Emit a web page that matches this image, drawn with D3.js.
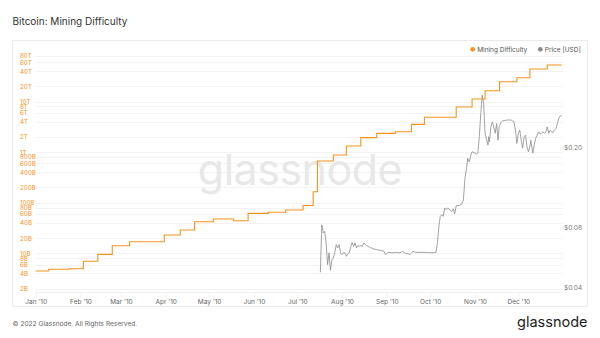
<!DOCTYPE html>
<html>
<head>
	<meta charset="utf-8">
    <title>Bitcoin: Mining Difficulty</title>
    <script type="text/javascript" src="https://d3js.org/d3.v7.min.js"></script>
    <style>
        body { margin: 0; background: #fff; }
        text { font-family: Inter, "Noto Sans", sans-serif; }
    </style>
</head>
<body>
	<script type="text/javascript">
        // difficulty steps (display units, hashes) - last point closes the final step
        var diffDates = ['2010-01-01','2010-01-10','2010-01-24','2010-02-03','2010-02-13','2010-02-23','2010-03-07',
            '2010-03-31','2010-04-11','2010-04-21','2010-05-04','2010-05-18','2010-05-28','2010-06-11','2010-06-23',
            '2010-07-05','2010-07-12','2010-07-15','2010-07-26','2010-08-04','2010-08-14','2010-08-25','2010-09-07',
            '2010-09-18','2010-09-27','2010-10-19','2010-10-30','2010-11-08','2010-11-18','2010-11-30','2010-12-09',
            '2010-12-21','2010-12-31']
        var diffValues = [4.47e9,4.83e9,4.96e9,6.95e9,9.55e9,14.1e9,16.9e9,
            23.0e9,28.9e9,42.1e9,47.6e9,44.1e9,61.7e9,64.6e9,71.7e9,
            88.1e9,165e9,667e9,877e9,1.32e12,1.93e12,2.35e12,2.53e12,
            3.54e12,4.87e12,7.78e12,11.2e12,16.3e12,24.6e12,29.5e12,43.9e12,
            52.6e12,52.6e12]

        var priceDates = ['2010-07-17','2010-07-18','2010-07-19','2010-07-20','2010-07-21','2010-07-22','2010-07-23',
            '2010-07-24','2010-07-25','2010-07-26','2010-07-27','2010-07-28','2010-07-29','2010-07-30','2010-07-31',
            '2010-08-01','2010-08-02','2010-08-03','2010-08-04','2010-08-05','2010-08-06','2010-08-07','2010-08-08',
            '2010-08-09','2010-08-10','2010-08-11','2010-08-12','2010-08-13','2010-08-14','2010-08-15','2010-08-16',
            '2010-08-17','2010-08-18','2010-08-19','2010-08-20','2010-08-21','2010-08-22','2010-08-23','2010-08-25',
            '2010-08-27','2010-08-29','2010-08-30','2010-08-31','2010-09-02','2010-09-05','2010-09-07','2010-09-10',
            '2010-09-12','2010-09-14','2010-09-16','2010-09-17','2010-09-19','2010-09-21','2010-09-24','2010-09-28',
            '2010-10-01','2010-10-03','2010-10-05','2010-10-06','2010-10-07','2010-10-08','2010-10-09','2010-10-10',
            '2010-10-11','2010-10-12','2010-10-13','2010-10-15','2010-10-16','2010-10-17','2010-10-18','2010-10-19',
            '2010-10-21','2010-10-23','2010-10-24','2010-10-25','2010-10-26','2010-10-27','2010-10-28','2010-10-29',
            '2010-10-30','2010-11-01','2010-11-02','2010-11-03','2010-11-04','2010-11-05','2010-11-06','2010-11-07',
            '2010-11-07T12','2010-11-08','2010-11-09','2010-11-10','2010-11-10T12','2010-11-11','2010-11-12','2010-11-13',
            '2010-11-14','2010-11-15','2010-11-16','2010-11-17','2010-11-17T18','2010-11-18T18','2010-11-20','2010-11-23',
            '2010-11-26','2010-11-28','2010-11-29','2010-11-30','2010-12-01','2010-12-02','2010-12-03','2010-12-03T18',
            '2010-12-04','2010-12-05','2010-12-06','2010-12-07','2010-12-08','2010-12-09','2010-12-09T16','2010-12-10',
            '2010-12-11','2010-12-12','2010-12-13','2010-12-14','2010-12-15','2010-12-16','2010-12-17','2010-12-18',
            '2010-12-19','2010-12-20','2010-12-21','2010-12-22','2010-12-23','2010-12-24','2010-12-25','2010-12-26',
            '2010-12-27','2010-12-28','2010-12-29','2010-12-30','2010-12-31']
        var priceValues = [0.0477,0.0824,0.075,0.0764,0.0669,0.0521,0.0597,
            0.0489,0.0552,0.0563,0.060,0.0656,0.0632,0.0656,0.0597,
            0.0585,0.060,0.0597,0.0574,0.059,0.0597,0.064,0.0673,
            0.0643,0.0669,0.0632,0.0649,0.0645,0.065,0.0643,0.0669,
            0.066,0.065,0.0643,0.0638,0.0632,0.0628,0.0624,0.062,
            0.0615,0.0612,0.0608,0.0585,0.0601,0.0597,0.060,0.0597,
            0.0608,0.0592,0.059,0.0585,0.0608,0.060,0.0601,0.060,
            0.0598,0.0597,0.0601,0.0669,0.0809,0.0908,0.0926,0.0908,
            0.100,0.098,0.100,0.0975,0.0961,0.099,0.0936,0.1026,
            0.103,0.105,0.110,0.139,0.155,0.177,0.170,0.182,
            0.191,0.188,0.186,0.188,0.227,0.296,0.366,0.333,
            0.275,0.236,0.220,0.206,0.227,0.214,0.254,0.269,
            0.254,0.236,0.264,0.218,0.254,0.266,0.272,0.275,
            0.275,0.269,0.245,0.210,0.236,0.245,0.218,0.202,
            0.199,0.227,0.231,0.202,0.191,0.202,0.218,0.210,
            0.188,0.206,0.223,0.231,0.240,0.234,0.236,0.240,
            0.236,0.240,0.254,0.236,0.245,0.240,0.238,0.245,
            0.249,0.264,0.280,0.288,0.290]

        var diffTicks = [2e9,4e9,6e9,8e9,1e10,2e10,4e10,6e10,8e10,1e11,2e11,4e11,6e11,8e11,
            1e12,2e12,4e12,6e12,8e12,1e13,2e13,4e13,6e13,8e13]
        var diffTickLabels = ['2B','4B','6B','8B','10B','20B','40B','60B','80B','100B','200B','400B','600B','800B',
            '1T','2T','4T','6T','8T','10T','20T','40T','60T','80T']
        var priceTicks = [0.04, 0.08, 0.20]
        var priceTickLabels = ['$0.04','$0.08','$0.20']
        var monthTicks = ['2010-01-01','2010-02-01','2010-03-01','2010-04-01','2010-05-01','2010-06-01',
            '2010-07-01','2010-08-01','2010-09-01','2010-10-01','2010-11-01','2010-12-01']
        var monthLabels = ["Jan '10","Feb '10","Mar '10","Apr '10","May '10","Jun '10",
            "Jul '10","Aug '10","Sep '10","Oct '10","Nov '10","Dec '10"]

        var parse = function (s) { return d3.isoParse(s.length > 10 ? s + ':00' : s + 'T00:00') }
        var orange = '#f7931a'
        var grey = '#8c8c8c'

        var diffData = diffDates.map(function (d, i) { return { date: parse(d), value: diffValues[i] } })
        var priceData = priceDates.map(function (d, i) { return { date: parse(d), value: priceValues[i] } })

        var W = 600, H = 338
        var plot = { left: 35.7, right: 563, top: 50, bottom: 292 }

        var xScale = d3.scaleTime()
            .domain([parse('2010-01-01'), parse('2011-01-01')])
            .range([plot.left, plot.left + 365 * 1.445])

        var yDiff = d3.scaleLog()
            .domain([2e9, 8e13])
            .range([288.7, 55.8])

        var yPrice = d3.scaleLog()
            .domain([0.04, 0.2])
            .range([287.7, 147.7])

        var svg = d3.select('body').append('svg')
            .attr('width', W)
            .attr('height', H)

        // title
        svg.append('text')
            .attr('x', 12.5)
            .attr('y', 25)
            .attr('font-size', 10)
            .attr('fill', '#333')
            .text('Bitcoin: Mining Difficulty')

        // frame
        svg.append('rect')
            .attr('x', 12.5)
            .attr('y', 40.5)
            .attr('width', 575)
            .attr('height', 266)
            .attr('fill', 'none')
            .attr('stroke', '#ebebeb')

        // horizontal grid
        svg.append('g').selectAll('line')
            .data(diffTicks)
            .enter()
            .append('line')
            .attr('x1', plot.left)
            .attr('x2', plot.right)
            .attr('y1', function (d) { return Math.round(yDiff(d)) + 0.5 })
            .attr('y2', function (d) { return Math.round(yDiff(d)) + 0.5 })
            .attr('stroke', '#f3f3f3')

        // watermark
        svg.append('text')
            .attr('x', 300)
            .attr('y', 185)
            .attr('text-anchor', 'middle')
            .attr('font-size', 43)
            .attr('font-weight', 400)
            .attr('fill', '#e8e8e8')
            .attr('letter-spacing', -0.5)
            .text('glassnode')

        // left axis (difficulty)
        var yAxisLeft = d3.axisLeft(yDiff)
            .tickValues(diffTicks)
            .tickFormat(function (d, i) { return diffTickLabels[i] })
            .tickSize(0)
        var gl = svg.append('g')
            .attr('transform', 'translate(20,0)')
            .call(yAxisLeft)
        gl.select('.domain').remove()
        gl.selectAll('text')
            .attr('text-anchor', 'start')
            .attr('x', 0)
            .attr('fill', orange)
            .attr('font-size', 6.2)
            .attr('font-family', 'Inter, sans-serif')

        // right axis (price)
        var yAxisRight = d3.axisRight(yPrice)
            .tickValues(priceTicks)
            .tickFormat(function (d, i) { return priceTickLabels[i] })
            .tickSize(0)
        var gr = svg.append('g')
            .attr('transform', 'translate(564,0)')
            .call(yAxisRight)
        gr.select('.domain').remove()
        gr.selectAll('text')
            .attr('x', 0)
            .attr('fill', '#777')
            .attr('font-size', 6.5)
            .attr('font-family', 'Inter, sans-serif')

        // x-axis
        var xAxis = d3.axisBottom(xScale)
            .tickValues(monthTicks.map(parse))
            .tickFormat(function (d, i) { return monthLabels[i] })
            .tickSize(6)
            .tickPadding(1)
        var gx = svg.append('g')
            .attr('transform', 'translate(0,' + plot.bottom + ')')
            .call(xAxis)
        gx.select('.domain')
            .attr('stroke', '#f0f0f0')
            .attr('d', 'M' + plot.left + ',0.5H' + plot.right)
        gx.selectAll('.tick line').attr('stroke', '#f0f0f0')
        gx.selectAll('text')
            .attr('fill', '#666')
            .attr('font-size', 6.5)
            .attr('font-family', 'Inter, sans-serif')

        // price line
        svg.append('path')
            .datum(priceData)
            .attr('fill', 'none')
            .attr('stroke', grey)
            .attr('stroke-width', 0.8)
            .attr('d', d3.line()
                .x(function (d) { return xScale(d.date) })
                .y(function (d) { return yPrice(d.value) }))

        // difficulty line
        svg.append('path')
            .datum(diffData)
            .attr('fill', 'none')
            .attr('stroke', orange)
            .attr('stroke-width', 1.1)
            .attr('d', d3.line()
                .curve(d3.curveStepAfter)
                .x(function (d) { return xScale(d.date) })
                .y(function (d) { return yDiff(d.value) }))

        // legend
        var legend = [
            { name: 'Mining Difficulty', color: orange, x: 472.7 },
            { name: 'Price [USD]', color: grey, x: 540.3 }
        ]
        var lg = svg.append('g').selectAll('g')
            .data(legend)
            .enter()
            .append('g')
            .attr('transform', function (d) { return 'translate(' + d.x + ',49.3)' })
        lg.append('circle')
            .attr('r', 2.4)
            .attr('fill', function (d) { return d.color })
        lg.append('text')
            .attr('x', 4.5)
            .attr('dy', '0.35em')
            .attr('font-size', 6.5)
            .attr('fill', '#555')
            .text(function (d) { return d.name })

        // footer
        svg.append('text')
            .attr('x', 12.5)
            .attr('y', 325.5)
            .attr('font-size', 6.6)
            .attr('fill', '#666')
            .text('\u00a9 2022 Glassnode. All Rights Reserved.')

        svg.append('text')
            .attr('x', 587.5)
            .attr('y', 327)
            .attr('text-anchor', 'end')
            .attr('font-size', 14.5)
            .attr('fill', '#222')
            .text('glassnode')
    </script>
</body>
</html>
